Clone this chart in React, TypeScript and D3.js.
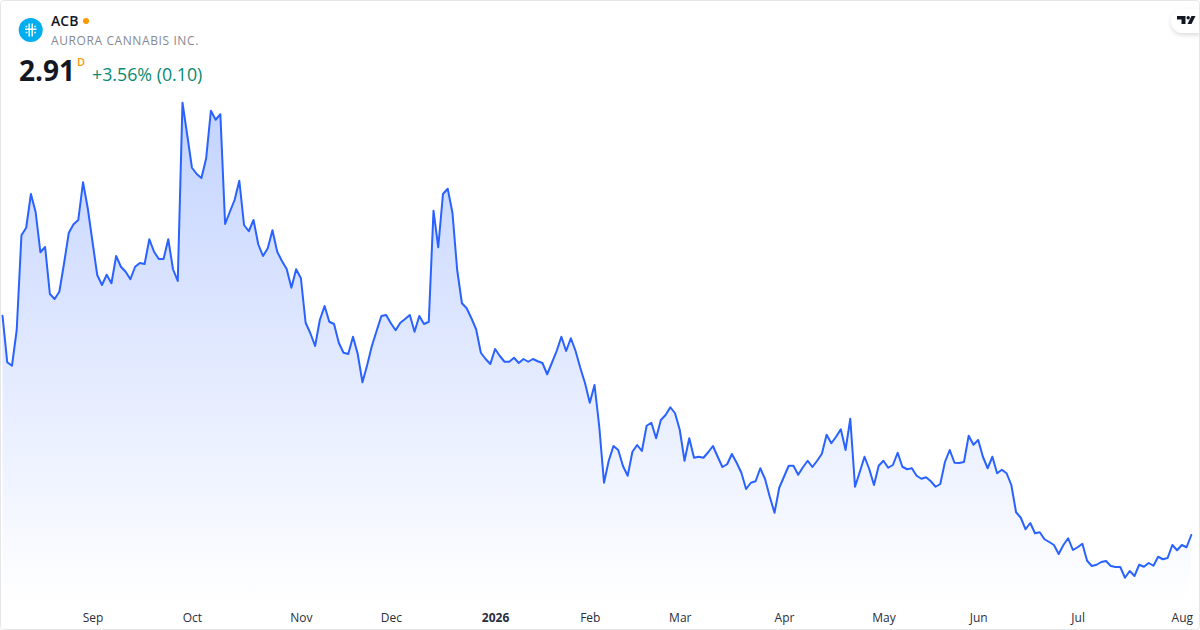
import { useEffect, useRef } from "react"
import * as d3 from "d3"

const WIDTH = 1200
const HEIGHT = 630

const closes = [
  4.664, 4.292, 4.264, 4.55, 5.308, 5.368, 5.638, 5.492, 5.172, 5.214, 4.838, 4.798, 4.856, 5.084, 5.328, 5.396,
  5.43, 5.732, 5.524, 5.256, 4.99, 4.91, 4.992, 4.924, 5.142, 5.056, 5.016, 4.956, 5.056, 5.086, 5.078, 5.276,
  5.176, 5.118, 5.118, 5.276, 5.036, 4.942, 6.368, 6.11, 5.848, 5.798, 5.766, 5.924, 6.304, 6.232, 6.276, 5.398,
  5.496, 5.59, 5.744, 5.39, 5.34, 5.43, 5.236, 5.142, 5.204, 5.348, 5.176, 5.102, 5.038, 4.888, 5.036, 4.964,
  4.608, 4.524, 4.422, 4.63, 4.742, 4.616, 4.598, 4.448, 4.368, 4.358, 4.496, 4.358, 4.132, 4.27, 4.424, 4.544,
  4.662, 4.67, 4.604, 4.548, 4.608, 4.638, 4.67, 4.536, 4.662, 4.598, 4.616, 5.504, 5.212, 5.638, 5.68, 5.488,
  5.03, 4.764, 4.724, 4.644, 4.556, 4.368, 4.318, 4.278, 4.398, 4.342, 4.296, 4.296, 4.328, 4.286, 4.318, 4.296,
  4.318, 4.3, 4.286, 4.196, 4.288, 4.382, 4.496, 4.382, 4.484, 4.382, 4.246, 4.124, 3.968, 4.11, 3.776, 3.328,
  3.504, 3.622, 3.59, 3.462, 3.384, 3.576, 3.63, 3.582, 3.784, 3.808, 3.684, 3.83, 3.87, 3.932, 3.884, 3.75,
  3.504, 3.684, 3.528, 3.536, 3.528, 3.572, 3.622, 3.536, 3.454, 3.476, 3.558, 3.488, 3.408, 3.278, 3.328, 3.34,
  3.444, 3.358, 3.216, 3.088, 3.288, 3.376, 3.464, 3.464, 3.392, 3.452, 3.504, 3.454, 3.504, 3.56, 3.712, 3.644,
  3.696, 3.756, 3.59, 3.84, 3.296, 3.414, 3.536, 3.438, 3.31, 3.464, 3.504, 3.448, 3.47, 3.568, 3.456, 3.436,
  3.444, 3.384, 3.36, 3.372, 3.34, 3.296, 3.318, 3.496, 3.59, 3.488, 3.486, 3.494, 3.704, 3.632, 3.67, 3.536,
  3.444, 3.536, 3.404, 3.432, 3.404, 3.31, 3.092, 3.048, 2.956, 3.006, 2.924, 2.932, 2.876, 2.854, 2.83, 2.758,
  2.83, 2.884, 2.79, 2.812, 2.84, 2.704, 2.662, 2.672, 2.694, 2.702, 2.662, 2.654, 2.654, 2.568, 2.622, 2.582,
  2.672, 2.656, 2.686, 2.664, 2.736, 2.716, 2.726, 2.83, 2.788, 2.83, 2.812, 2.91,
]

const tickIndex = [19, 40, 63, 82, 104, 124, 143, 165, 186, 206, 227, 249]
const tickLabels = ["Sep", "Oct", "Nov", "Dec", "2026", "Feb", "Mar", "Apr", "May", "Jun", "Jul", "Aug"]

const symbol = "ACB"
const company = "AURORA CANNABIS INC."
const lastPrice = "2.91"
const interval = "D"
const change = "+3.56% (0.10)"

const FONT = "'Open Sans', 'Noto Sans', sans-serif"

export default function App() {
  const svgRef = useRef<SVGSVGElement>(null)

  useEffect(() => {
    if (!svgRef.current) return
    const svg = d3.select(svgRef.current)
    svg.selectAll("*").remove()

    const x = d3.scaleLinear().domain([0, closes.length - 1]).range([2.5, 1191.3])
    const y = d3.scaleLinear().domain([2.15, 7.19]).range([HEIGHT, 0])
    const baseY = 604

    // area gradient
    const defs = svg.append("defs")
    const grad = defs
      .append("linearGradient")
      .attr("id", "areaFill")
      .attr("gradientUnits", "userSpaceOnUse")
      .attr("x1", 0)
      .attr("x2", 0)
      .attr("y1", 102)
      .attr("y2", baseY)
    grad.append("stop").attr("offset", 0).attr("stop-color", "#2962ff").attr("stop-opacity", 0.28)
    grad.append("stop").attr("offset", 1).attr("stop-color", "#2962ff").attr("stop-opacity", 0)

    const shadow = defs.append("filter").attr("id", "pillShadow").attr("x", "-30%").attr("y", "-30%").attr("width", "160%").attr("height", "180%")
    shadow.append("feDropShadow").attr("dx", 0).attr("dy", 2).attr("stdDeviation", 2).attr("flood-color", "#000").attr("flood-opacity", 0.14)

    svg.append("rect").attr("width", WIDTH).attr("height", HEIGHT).attr("fill", "#fff")

    const area = d3
      .area<number>()
      .x((_, i) => x(i))
      .y0(baseY)
      .y1((d) => y(d))
    svg.append("path").datum(closes).attr("fill", "url(#areaFill)").attr("d", area)

    const line = d3
      .line<number>()
      .x((_, i) => x(i))
      .y((d) => y(d))
    svg
      .append("path")
      .datum(closes)
      .attr("fill", "none")
      .attr("stroke", "#2962ff")
      .attr("stroke-width", 2)
      .attr("stroke-linejoin", "round")
      .attr("stroke-linecap", "round")
      .attr("d", line)

    // time axis
    const axis = svg
      .append("g")
      .attr("transform", "translate(0,606)")
      .call(
        d3
          .axisBottom(x)
          .tickValues(tickIndex)
          .tickSize(0)
          .tickPadding(0)
          .tickFormat((_, i) => tickLabels[i]),
      )
    axis.select(".domain").remove()
    axis
      .selectAll<SVGTextElement, number>("text")
      .attr("y", 16)
      .attr("dy", 0)
      .attr("font-family", FONT)
      .attr("font-size", 12)
      .attr("fill", "#2a2e39")
      .attr("font-weight", (_, i) => (tickLabels[i] === "2026" ? 700 : 400))

    // header logo
    svg.append("circle").attr("cx", 30.7).attr("cy", 30).attr("r", 12).attr("fill", "#00aeef")
    const logo = svg.append("g").attr("fill", "none")
    logo.append("path").attr("stroke", "#fff").attr("stroke-width", 1.4).attr("d", "M29.2 23.5V36.5M32.2 23.5V36.5M25 29.3H36.5")
    logo.append("path").attr("stroke", "#bfe9fa").attr("stroke-width", 1.4).attr("d", "M25.5 26.5H27.5M34 26.5H36M25.5 32.5H27.5M34 32.5H36")

    const text = (tx: number, ty: number, s: string, size: number, fill: string, weight = 400, spacing = 0) =>
      svg
        .append("text")
        .attr("x", tx)
        .attr("y", ty)
        .attr("font-family", FONT)
        .attr("font-size", size)
        .attr("font-weight", weight)
        .attr("letter-spacing", spacing)
        .attr("fill", fill)
        .text(s)

    text(51, 26, symbol, 14, "#131722", 600)
    svg.append("circle").attr("cx", 86).attr("cy", 21).attr("r", 3).attr("fill", "#ff9800")
    text(51, 45, company, 12, "#868993", 400, 0.6)
    text(19, 81, lastPrice, 28, "#131722", 700)
    text(77, 66, interval, 11, "#ff9800", 600)
    text(92, 81, change, 17.8, "#0a8a73")

    // TV badge
    svg
      .append("path")
      .attr("d", "M1200 9H1183A12 12 0 0 0 1171 21A12 12 0 0 0 1183 33H1200Z")
      .attr("fill", "#fff")
      .attr("filter", "url(#pillShadow)")
    svg.append("path").attr("fill", "#131722").attr("d", "M1177 16H1185.5V24H1181.5V19.5H1177ZM1191.5 16H1195.5L1191.5 24H1187.5Z")
    svg.append("circle").attr("cx", 1188.2).attr("cy", 17.8).attr("r", 1.7).attr("fill", "#131722")

    // frame
    svg
      .append("rect")
      .attr("x", 0.5)
      .attr("y", 0.5)
      .attr("width", WIDTH - 1)
      .attr("height", HEIGHT - 1)
      .attr("rx", 3)
      .attr("fill", "none")
      .attr("stroke", "#e6e6e6")
  }, [])

  return (
    <svg
      ref={svgRef}
      width={WIDTH}
      height={HEIGHT}
      style={{ position: "fixed", left: 0, top: 0, display: "block" }}
    />
  )
}
